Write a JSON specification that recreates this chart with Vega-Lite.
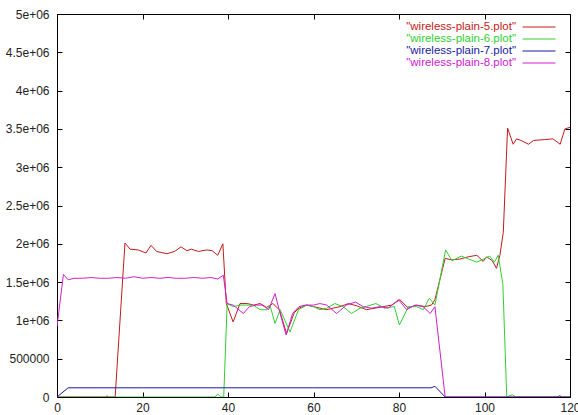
{
  "$schema": "https://vega.github.io/schema/vega-lite/v6.json",
  "autosize": "none",
  "width": 513,
  "height": 383,
  "padding": {"left": 57, "top": 14, "right": 8, "bottom": 18},
  "background": "white",
  "config": {
    "view": {"stroke": "black", "strokeWidth": 1},
    "font": "Liberation Sans",
    "axis": {
      "grid": false,
      "domain": false,
      "tickColor": "black",
      "tickSize": -5,
      "labelFont": "Liberation Sans",
      "labelFontSize": 12,
      "labelColor": "#222",
      "title": null
    },
    "legend": {
      "orient": "none",
      "legendX": 476,
      "legendY": 7,
      "padding": 0,
      "symbolType": "M-3,0H3",
      "symbolSize": 121,
      "symbolStrokeWidth": 1,
      "labelFont": "Liberation Sans",
      "labelFontSize": 11.5,
      "labelAlign": "right",
      "labelOffset": -29,
      "rowPadding": -1,
      "title": null
    }
  },
  "data": {
    "values": [
      {"s": "\"wireless-plain-5.plot\"", "x": 0, "y": 0},
      {"s": "\"wireless-plain-5.plot\"", "x": 5, "y": 0},
      {"s": "\"wireless-plain-5.plot\"", "x": 11.3, "y": 0},
      {"s": "\"wireless-plain-5.plot\"", "x": 11.7, "y": 15000},
      {"s": "\"wireless-plain-5.plot\"", "x": 12.1, "y": 0},
      {"s": "\"wireless-plain-5.plot\"", "x": 13.6, "y": 0},
      {"s": "\"wireless-plain-5.plot\"", "x": 15.9, "y": 2010000},
      {"s": "\"wireless-plain-5.plot\"", "x": 17.1, "y": 1930000},
      {"s": "\"wireless-plain-5.plot\"", "x": 19, "y": 1920000},
      {"s": "\"wireless-plain-5.plot\"", "x": 20.8, "y": 1880000},
      {"s": "\"wireless-plain-5.plot\"", "x": 22, "y": 1980000},
      {"s": "\"wireless-plain-5.plot\"", "x": 23.3, "y": 1900000},
      {"s": "\"wireless-plain-5.plot\"", "x": 25.7, "y": 1870000},
      {"s": "\"wireless-plain-5.plot\"", "x": 27.5, "y": 1900000},
      {"s": "\"wireless-plain-5.plot\"", "x": 29, "y": 1960000},
      {"s": "\"wireless-plain-5.plot\"", "x": 30.4, "y": 1910000},
      {"s": "\"wireless-plain-5.plot\"", "x": 31.4, "y": 1930000},
      {"s": "\"wireless-plain-5.plot\"", "x": 33.1, "y": 1900000},
      {"s": "\"wireless-plain-5.plot\"", "x": 35, "y": 1920000},
      {"s": "\"wireless-plain-5.plot\"", "x": 36.3, "y": 1910000},
      {"s": "\"wireless-plain-5.plot\"", "x": 37.6, "y": 1850000},
      {"s": "\"wireless-plain-5.plot\"", "x": 38.8, "y": 2000000},
      {"s": "\"wireless-plain-5.plot\"", "x": 39.6, "y": 1220000},
      {"s": "\"wireless-plain-5.plot\"", "x": 41.2, "y": 980000},
      {"s": "\"wireless-plain-5.plot\"", "x": 42.8, "y": 1220000},
      {"s": "\"wireless-plain-5.plot\"", "x": 44.5, "y": 1220000},
      {"s": "\"wireless-plain-5.plot\"", "x": 46, "y": 1200000},
      {"s": "\"wireless-plain-5.plot\"", "x": 47.5, "y": 1220000},
      {"s": "\"wireless-plain-5.plot\"", "x": 49, "y": 1170000},
      {"s": "\"wireless-plain-5.plot\"", "x": 50.5, "y": 1220000},
      {"s": "\"wireless-plain-5.plot\"", "x": 52, "y": 1140000},
      {"s": "\"wireless-plain-5.plot\"", "x": 53.7, "y": 830000},
      {"s": "\"wireless-plain-5.plot\"", "x": 55.5, "y": 1100000},
      {"s": "\"wireless-plain-5.plot\"", "x": 56.6, "y": 1160000},
      {"s": "\"wireless-plain-5.plot\"", "x": 58.4, "y": 1200000},
      {"s": "\"wireless-plain-5.plot\"", "x": 60, "y": 1180000},
      {"s": "\"wireless-plain-5.plot\"", "x": 61.5, "y": 1160000},
      {"s": "\"wireless-plain-5.plot\"", "x": 63.1, "y": 1140000},
      {"s": "\"wireless-plain-5.plot\"", "x": 64.6, "y": 1160000},
      {"s": "\"wireless-plain-5.plot\"", "x": 66.2, "y": 1180000},
      {"s": "\"wireless-plain-5.plot\"", "x": 68.2, "y": 1220000},
      {"s": "\"wireless-plain-5.plot\"", "x": 70.1, "y": 1190000},
      {"s": "\"wireless-plain-5.plot\"", "x": 72.4, "y": 1140000},
      {"s": "\"wireless-plain-5.plot\"", "x": 74.4, "y": 1160000},
      {"s": "\"wireless-plain-5.plot\"", "x": 76.3, "y": 1180000},
      {"s": "\"wireless-plain-5.plot\"", "x": 78.3, "y": 1200000},
      {"s": "\"wireless-plain-5.plot\"", "x": 80.2, "y": 1270000},
      {"s": "\"wireless-plain-5.plot\"", "x": 82.2, "y": 1160000},
      {"s": "\"wireless-plain-5.plot\"", "x": 84.1, "y": 1200000},
      {"s": "\"wireless-plain-5.plot\"", "x": 86.1, "y": 1180000},
      {"s": "\"wireless-plain-5.plot\"", "x": 87.6, "y": 1200000},
      {"s": "\"wireless-plain-5.plot\"", "x": 88.4, "y": 1270000},
      {"s": "\"wireless-plain-5.plot\"", "x": 90.8, "y": 1810000},
      {"s": "\"wireless-plain-5.plot\"", "x": 92.3, "y": 1790000},
      {"s": "\"wireless-plain-5.plot\"", "x": 94.2, "y": 1800000},
      {"s": "\"wireless-plain-5.plot\"", "x": 96.2, "y": 1830000},
      {"s": "\"wireless-plain-5.plot\"", "x": 98.2, "y": 1850000},
      {"s": "\"wireless-plain-5.plot\"", "x": 99.7, "y": 1770000},
      {"s": "\"wireless-plain-5.plot\"", "x": 100.5, "y": 1830000},
      {"s": "\"wireless-plain-5.plot\"", "x": 101.8, "y": 1780000},
      {"s": "\"wireless-plain-5.plot\"", "x": 102.8, "y": 1680000},
      {"s": "\"wireless-plain-5.plot\"", "x": 103.6, "y": 1850000},
      {"s": "\"wireless-plain-5.plot\"", "x": 104.4, "y": 2150000},
      {"s": "\"wireless-plain-5.plot\"", "x": 105.4, "y": 3510000},
      {"s": "\"wireless-plain-5.plot\"", "x": 106.7, "y": 3300000},
      {"s": "\"wireless-plain-5.plot\"", "x": 107.5, "y": 3370000},
      {"s": "\"wireless-plain-5.plot\"", "x": 108.5, "y": 3350000},
      {"s": "\"wireless-plain-5.plot\"", "x": 110.3, "y": 3300000},
      {"s": "\"wireless-plain-5.plot\"", "x": 111.5, "y": 3350000},
      {"s": "\"wireless-plain-5.plot\"", "x": 114, "y": 3360000},
      {"s": "\"wireless-plain-5.plot\"", "x": 116, "y": 3370000},
      {"s": "\"wireless-plain-5.plot\"", "x": 117.7, "y": 3300000},
      {"s": "\"wireless-plain-5.plot\"", "x": 118.8, "y": 3500000},
      {"s": "\"wireless-plain-5.plot\"", "x": 120, "y": 3520000},

      {"s": "\"wireless-plain-6.plot\"", "x": 0, "y": 0},
      {"s": "\"wireless-plain-6.plot\"", "x": 20, "y": 0},
      {"s": "\"wireless-plain-6.plot\"", "x": 37, "y": 0},
      {"s": "\"wireless-plain-6.plot\"", "x": 37.6, "y": 40000},
      {"s": "\"wireless-plain-6.plot\"", "x": 38.3, "y": 0},
      {"s": "\"wireless-plain-6.plot\"", "x": 39, "y": 0},
      {"s": "\"wireless-plain-6.plot\"", "x": 39.8, "y": 1220000},
      {"s": "\"wireless-plain-6.plot\"", "x": 41.2, "y": 1180000},
      {"s": "\"wireless-plain-6.plot\"", "x": 42.8, "y": 1200000},
      {"s": "\"wireless-plain-6.plot\"", "x": 44.3, "y": 1200000},
      {"s": "\"wireless-plain-6.plot\"", "x": 45.9, "y": 1200000},
      {"s": "\"wireless-plain-6.plot\"", "x": 47.5, "y": 1140000},
      {"s": "\"wireless-plain-6.plot\"", "x": 49.1, "y": 1140000},
      {"s": "\"wireless-plain-6.plot\"", "x": 49.8, "y": 1200000},
      {"s": "\"wireless-plain-6.plot\"", "x": 51, "y": 960000},
      {"s": "\"wireless-plain-6.plot\"", "x": 52.2, "y": 1140000},
      {"s": "\"wireless-plain-6.plot\"", "x": 54.5, "y": 850000},
      {"s": "\"wireless-plain-6.plot\"", "x": 56.5, "y": 1140000},
      {"s": "\"wireless-plain-6.plot\"", "x": 58.4, "y": 1200000},
      {"s": "\"wireless-plain-6.plot\"", "x": 60, "y": 1180000},
      {"s": "\"wireless-plain-6.plot\"", "x": 61.5, "y": 1140000},
      {"s": "\"wireless-plain-6.plot\"", "x": 63.1, "y": 1160000},
      {"s": "\"wireless-plain-6.plot\"", "x": 65, "y": 1220000},
      {"s": "\"wireless-plain-6.plot\"", "x": 66.9, "y": 1180000},
      {"s": "\"wireless-plain-6.plot\"", "x": 68.9, "y": 1090000},
      {"s": "\"wireless-plain-6.plot\"", "x": 70.9, "y": 1160000},
      {"s": "\"wireless-plain-6.plot\"", "x": 72.8, "y": 1190000},
      {"s": "\"wireless-plain-6.plot\"", "x": 74.6, "y": 1220000},
      {"s": "\"wireless-plain-6.plot\"", "x": 76.6, "y": 1160000},
      {"s": "\"wireless-plain-6.plot\"", "x": 78.9, "y": 1180000},
      {"s": "\"wireless-plain-6.plot\"", "x": 80.1, "y": 940000},
      {"s": "\"wireless-plain-6.plot\"", "x": 82.2, "y": 1180000},
      {"s": "\"wireless-plain-6.plot\"", "x": 84.1, "y": 1180000},
      {"s": "\"wireless-plain-6.plot\"", "x": 85.7, "y": 1140000},
      {"s": "\"wireless-plain-6.plot\"", "x": 87.1, "y": 1290000},
      {"s": "\"wireless-plain-6.plot\"", "x": 88.4, "y": 1200000},
      {"s": "\"wireless-plain-6.plot\"", "x": 90.9, "y": 1920000},
      {"s": "\"wireless-plain-6.plot\"", "x": 92.4, "y": 1780000},
      {"s": "\"wireless-plain-6.plot\"", "x": 94.6, "y": 1840000},
      {"s": "\"wireless-plain-6.plot\"", "x": 96.3, "y": 1800000},
      {"s": "\"wireless-plain-6.plot\"", "x": 98.2, "y": 1760000},
      {"s": "\"wireless-plain-6.plot\"", "x": 99.8, "y": 1800000},
      {"s": "\"wireless-plain-6.plot\"", "x": 101.2, "y": 1840000},
      {"s": "\"wireless-plain-6.plot\"", "x": 102.3, "y": 1760000},
      {"s": "\"wireless-plain-6.plot\"", "x": 103.2, "y": 1850000},
      {"s": "\"wireless-plain-6.plot\"", "x": 104.3, "y": 1470000},
      {"s": "\"wireless-plain-6.plot\"", "x": 105.2, "y": 0},
      {"s": "\"wireless-plain-6.plot\"", "x": 106.5, "y": 30000},
      {"s": "\"wireless-plain-6.plot\"", "x": 107.3, "y": 0},
      {"s": "\"wireless-plain-6.plot\"", "x": 120, "y": 0},

      {"s": "\"wireless-plain-7.plot\"", "x": 0, "y": 0},
      {"s": "\"wireless-plain-7.plot\"", "x": 2.6, "y": 120000},
      {"s": "\"wireless-plain-7.plot\"", "x": 20, "y": 120000},
      {"s": "\"wireless-plain-7.plot\"", "x": 40, "y": 120000},
      {"s": "\"wireless-plain-7.plot\"", "x": 60, "y": 120000},
      {"s": "\"wireless-plain-7.plot\"", "x": 80, "y": 120000},
      {"s": "\"wireless-plain-7.plot\"", "x": 87.5, "y": 120000},
      {"s": "\"wireless-plain-7.plot\"", "x": 88.4, "y": 140000},
      {"s": "\"wireless-plain-7.plot\"", "x": 90.8, "y": 0},
      {"s": "\"wireless-plain-7.plot\"", "x": 117, "y": 0},
      {"s": "\"wireless-plain-7.plot\"", "x": 117.6, "y": 15000},
      {"s": "\"wireless-plain-7.plot\"", "x": 118.2, "y": 0},
      {"s": "\"wireless-plain-7.plot\"", "x": 120, "y": 0},

      {"s": "\"wireless-plain-8.plot\"", "x": 0, "y": 920000},
      {"s": "\"wireless-plain-8.plot\"", "x": 1.5, "y": 1600000},
      {"s": "\"wireless-plain-8.plot\"", "x": 2.6, "y": 1530000},
      {"s": "\"wireless-plain-8.plot\"", "x": 4, "y": 1550000},
      {"s": "\"wireless-plain-8.plot\"", "x": 6, "y": 1550000},
      {"s": "\"wireless-plain-8.plot\"", "x": 8, "y": 1560000},
      {"s": "\"wireless-plain-8.plot\"", "x": 10, "y": 1550000},
      {"s": "\"wireless-plain-8.plot\"", "x": 12, "y": 1550000},
      {"s": "\"wireless-plain-8.plot\"", "x": 14, "y": 1560000},
      {"s": "\"wireless-plain-8.plot\"", "x": 16, "y": 1550000},
      {"s": "\"wireless-plain-8.plot\"", "x": 18, "y": 1570000},
      {"s": "\"wireless-plain-8.plot\"", "x": 20, "y": 1550000},
      {"s": "\"wireless-plain-8.plot\"", "x": 22, "y": 1560000},
      {"s": "\"wireless-plain-8.plot\"", "x": 24, "y": 1550000},
      {"s": "\"wireless-plain-8.plot\"", "x": 26, "y": 1560000},
      {"s": "\"wireless-plain-8.plot\"", "x": 28, "y": 1550000},
      {"s": "\"wireless-plain-8.plot\"", "x": 30, "y": 1550000},
      {"s": "\"wireless-plain-8.plot\"", "x": 32, "y": 1560000},
      {"s": "\"wireless-plain-8.plot\"", "x": 34, "y": 1550000},
      {"s": "\"wireless-plain-8.plot\"", "x": 36, "y": 1560000},
      {"s": "\"wireless-plain-8.plot\"", "x": 37.6, "y": 1540000},
      {"s": "\"wireless-plain-8.plot\"", "x": 38.9, "y": 1590000},
      {"s": "\"wireless-plain-8.plot\"", "x": 39.8, "y": 1220000},
      {"s": "\"wireless-plain-8.plot\"", "x": 41.2, "y": 1200000},
      {"s": "\"wireless-plain-8.plot\"", "x": 43.6, "y": 1090000},
      {"s": "\"wireless-plain-8.plot\"", "x": 45, "y": 1180000},
      {"s": "\"wireless-plain-8.plot\"", "x": 46.6, "y": 1200000},
      {"s": "\"wireless-plain-8.plot\"", "x": 48, "y": 1200000},
      {"s": "\"wireless-plain-8.plot\"", "x": 49.5, "y": 1140000},
      {"s": "\"wireless-plain-8.plot\"", "x": 51, "y": 1350000},
      {"s": "\"wireless-plain-8.plot\"", "x": 52.2, "y": 1090000},
      {"s": "\"wireless-plain-8.plot\"", "x": 53.6, "y": 810000},
      {"s": "\"wireless-plain-8.plot\"", "x": 55.1, "y": 1090000},
      {"s": "\"wireless-plain-8.plot\"", "x": 56.6, "y": 1180000},
      {"s": "\"wireless-plain-8.plot\"", "x": 58.1, "y": 1200000},
      {"s": "\"wireless-plain-8.plot\"", "x": 60, "y": 1200000},
      {"s": "\"wireless-plain-8.plot\"", "x": 61.5, "y": 1220000},
      {"s": "\"wireless-plain-8.plot\"", "x": 63.1, "y": 1200000},
      {"s": "\"wireless-plain-8.plot\"", "x": 65.4, "y": 1090000},
      {"s": "\"wireless-plain-8.plot\"", "x": 67.7, "y": 1200000},
      {"s": "\"wireless-plain-8.plot\"", "x": 69.8, "y": 1240000},
      {"s": "\"wireless-plain-8.plot\"", "x": 71.6, "y": 1180000},
      {"s": "\"wireless-plain-8.plot\"", "x": 73.6, "y": 1160000},
      {"s": "\"wireless-plain-8.plot\"", "x": 75.6, "y": 1180000},
      {"s": "\"wireless-plain-8.plot\"", "x": 77.5, "y": 1160000},
      {"s": "\"wireless-plain-8.plot\"", "x": 79.9, "y": 1270000},
      {"s": "\"wireless-plain-8.plot\"", "x": 81.8, "y": 1140000},
      {"s": "\"wireless-plain-8.plot\"", "x": 83.7, "y": 1200000},
      {"s": "\"wireless-plain-8.plot\"", "x": 85.6, "y": 1180000},
      {"s": "\"wireless-plain-8.plot\"", "x": 87.3, "y": 1090000},
      {"s": "\"wireless-plain-8.plot\"", "x": 88.4, "y": 1180000},
      {"s": "\"wireless-plain-8.plot\"", "x": 90.8, "y": 0},
      {"s": "\"wireless-plain-8.plot\"", "x": 120, "y": 0}
    ]
  },
  "layer": [
    {
      "mark": {"type": "line", "strokeWidth": 1, "clip": true},
      "encoding": {
        "x": {
          "field": "x", "type": "quantitative",
          "scale": {"domain": [0, 120], "nice": false, "zero": false},
          "axis": {"orient": "bottom", "values": [0, 20, 40, 60, 80, 100, 120], "labelPadding": 10, "labelFlush": false}
        },
        "y": {
          "field": "y", "type": "quantitative",
          "scale": {"domain": [0, 5000000], "nice": false},
          "axis": {
            "orient": "left",
            "values": [0, 500000, 1000000, 1500000, 2000000, 2500000, 3000000, 3500000, 4000000, 4500000, 5000000],
            "labelExpr": "datum.value >= 1000000 ? (datum.value / 1000000) + 'e+06' : '' + datum.value",
            "labelPadding": 13,
            "labelFlush": false
          }
        },
        "color": {
          "field": "s", "type": "nominal",
          "scale": {
            "domain": ["\"wireless-plain-5.plot\"", "\"wireless-plain-6.plot\"", "\"wireless-plain-7.plot\"", "\"wireless-plain-8.plot\""],
            "range": ["#c41a1a", "#30d030", "#1a1aa0", "#d020d0"]
          },
          "legend": {"labelColor": {"expr": "scale('color', datum.value)"}}
        },
        "order": {"field": "x", "type": "quantitative"}
      }
    },
    {
      "mark": {"type": "line", "strokeOpacity": 0},
      "encoding": {
        "x": {
          "field": "x", "type": "quantitative",
          "axis": {"orient": "top", "values": [0, 20, 40, 60, 80, 100, 120], "labels": false}
        },
        "y": {
          "field": "y", "type": "quantitative",
          "axis": {
            "orient": "right",
            "values": [0, 500000, 1000000, 1500000, 2000000, 2500000, 3000000, 3500000, 4000000, 4500000, 5000000],
            "labels": false
          }
        }
      }
    }
  ],
  "resolve": {"axis": {"x": "independent", "y": "independent"}}
}
